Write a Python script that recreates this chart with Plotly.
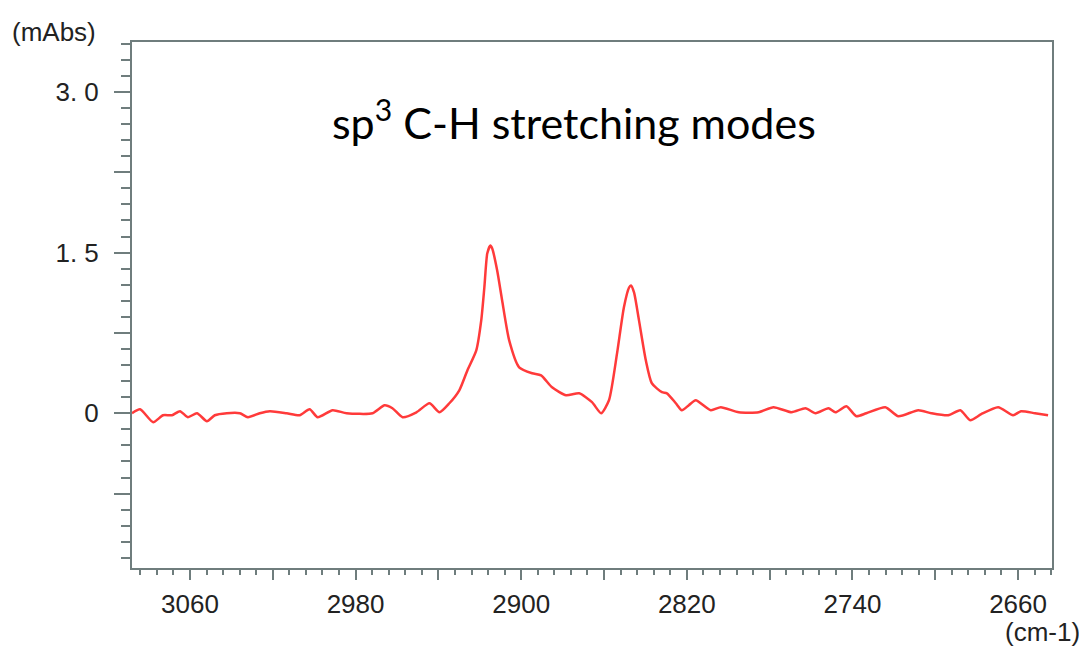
import plotly.graph_objects as go

# Wavenumber (cm-1) and absorbance (mAbs)
wavenumber = [3088.0, 3084.1, 3077.8, 3073.0, 3068.7, 3064.8, 3061.0, 3056.6, 3051.8, 3048.0,
              3042.2, 3035.9, 3032.0, 3026.3, 3021.4, 3013.3, 3007.0, 3002.2, 2998.3, 2991.1,
              2984.3, 2971.8, 2966.0, 2962.2, 2957.3, 2950.6, 2944.3, 2939.5, 2934.7, 2929.9,
              2926.0, 2921.7, 2919.3, 2917.8, 2916.4, 2914.9, 2914.0, 2911.6, 2909.2, 2905.8,
              2901.0, 2894.7, 2890.4, 2885.1, 2878.3, 2872.0, 2865.8, 2861.4, 2857.6, 2853.7,
              2850.4, 2847.9, 2847.0, 2845.5, 2843.1, 2839.8, 2836.9, 2832.0, 2829.6, 2825.3,
              2822.4, 2819.0, 2815.7, 2808.4, 2803.6, 2794.9, 2785.3, 2778.1, 2769.4, 2762.7,
              2757.8, 2751.6, 2748.2, 2742.9, 2738.1, 2733.3, 2724.1, 2717.8, 2708.2, 2701.9,
              2693.7, 2687.9, 2683.1, 2677.8, 2669.6, 2662.4, 2658.6, 2651.8, 2645.5]
absorbance = [0.00, 0.037, -0.084, -0.019, -0.019, 0.019, -0.037, 0.000, -0.075, -0.019,
              0.000, 0.000, -0.037, 0.000, 0.019, 0.000, -0.019, 0.037, -0.037, 0.028,
              0.000, 0.000, 0.075, 0.047, -0.037, 0.009, 0.093, 0.009, 0.093, 0.214,
              0.400, 0.587, 0.867, 1.174, 1.491, 1.566, 1.538, 1.333, 1.053, 0.680,
              0.429, 0.373, 0.354, 0.242, 0.168, 0.186, 0.103, 0.000, 0.121, 0.559,
              0.988, 1.174, 1.193, 1.128, 0.867, 0.494, 0.280, 0.196, 0.186, 0.093,
              0.028, 0.075, 0.121, 0.028, 0.056, 0.009, 0.009, 0.056, 0.009, 0.047,
              0.000, 0.047, 0.009, 0.065, -0.028, 0.000, 0.056, -0.028, 0.028, 0.000,
              -0.019, 0.028, -0.065, -0.009, 0.056, -0.019, 0.019, 0.000, -0.019]

x_tickvals = [3060, 3020, 2980, 2940, 2900, 2860, 2820, 2780, 2740, 2700, 2660]
x_ticktext = ["3060", "", "2980", "", "2900", "", "2820", "", "2740", "", "2660"]
y_tickvals = [3.0, 2.25, 1.5, 0.75, 0.0, -0.75]
y_ticktext = ["3. 0", "", "1. 5", "", "0", ""]

AXIS = "#6f7d7d"
TICKFONT = dict(family="Liberation Sans, Arial", size=26, color="#222222")

fig = go.Figure()
fig.add_trace(go.Scatter(x=wavenumber, y=absorbance, mode="lines",
                         line=dict(color="#ff3a3a", width=2.5, shape="spline", smoothing=0.6),
                         hoverinfo="skip", showlegend=False))

# the page body has an 8px margin, so the figure is drawn 8px smaller
fig.update_layout(
    width=1079, height=640,
    margin=dict(l=124, r=35, t=34, b=80),
    paper_bgcolor="white", plot_bgcolor="white",
    xaxis=dict(range=[3088, 2643.6], tickmode="array", tickvals=x_tickvals, ticktext=x_ticktext,
               showgrid=False, zeroline=False, showline=True, linecolor=AXIS, linewidth=2,
               mirror=True, ticks="outside", ticklen=10, tickwidth=2, tickcolor=AXIS,
               tickfont=TICKFONT, ticklabelstandoff=2,
               minor=dict(tickmode="linear", tick0=3060, dtick=8, ticks="outside",
                          ticklen=5, tickwidth=2, tickcolor=AXIS, showgrid=False)),
    yaxis=dict(range=[-1.445, 3.466], tickmode="array", tickvals=y_tickvals, ticktext=y_ticktext,
               showgrid=False, zeroline=False, showline=True, linecolor=AXIS, linewidth=2,
               mirror=True, ticks="outside", ticklen=16, tickwidth=2, tickcolor=AXIS,
               tickfont=TICKFONT, ticklabelstandoff=10,
               minor=dict(tickmode="linear", tick0=0, dtick=0.15, ticks="outside",
                          ticklen=9, tickwidth=2, tickcolor=AXIS, showgrid=False)),
)

fig.add_annotation(text="sp<sup>3</sup> C-H stretching modes", xref="paper", yref="paper",
                   x=0.215, y=0.852, xanchor="left", yanchor="middle", showarrow=False,
                   font=dict(family="Lato, Open Sans, sans-serif", size=43, color="black"))
fig.add_annotation(text="(mAbs)", xref="paper", yref="paper", x=-0.1326, y=1.019,
                   xanchor="left", yanchor="middle", showarrow=False, font=TICKFONT)
fig.add_annotation(text="(cm-1)", xref="paper", yref="paper", x=1.033, y=-0.1217,
                   xanchor="right", yanchor="middle", showarrow=False, font=TICKFONT)

fig.write_html("out.html")
